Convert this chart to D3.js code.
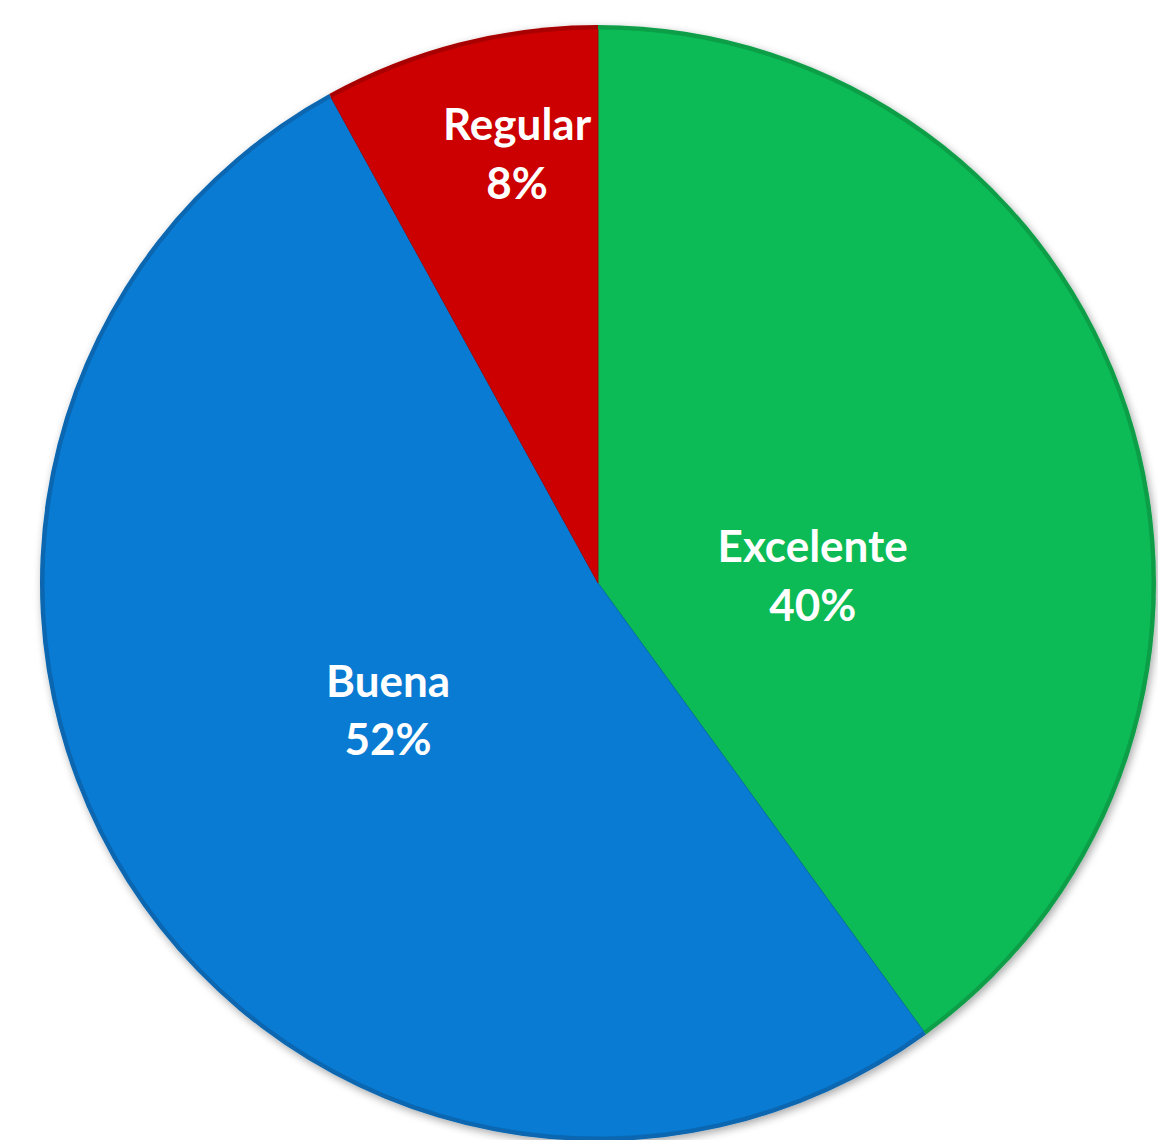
<!DOCTYPE html>
<html>
<head>
<meta charset="utf-8">
<script src="https://cdn.jsdelivr.net/npm/d3@7"></script>
<style>
  body { margin: 0; background: #ffffff; }
  #chart { width: 1158px; height: 1140px; }
</style>
</head>
<body>
<div id="chart"></div>
<script>
// Data
const categories = ["Excelente", "Buena", "Regular"];
const percents = [40, 52, 8];

// Styling kept apart from the data
const colors = { "Excelente": "#0cbb55", "Buena": "#0a7bd2", "Regular": "#cc0000" };
const edgeColors = { "Excelente": "#0a9e47", "Buena": "#0866b0", "Regular": "#a80000" };
// label placement: [angle offset in radians from slice middle, radius as fraction of pie radius]
const labelPlacement = { "Excelente": [0.28, 0.385], "Buena": [0.02, 0.44], "Regular": [0.065, 0.783] };

const width = 1158, height = 1140;
const cx = 598, cy = 583, radius = 558;

const svg = d3.select("#chart")
    .append("svg")
    .attr("width", width)
    .attr("height", height);

// soft shadow like the original office chart
const defs = svg.append("defs");
const shadow = defs.append("filter")
    .attr("id", "shadow")
    .attr("x", "-10%").attr("y", "-10%")
    .attr("width", "120%").attr("height", "120%");
shadow.append("feGaussianBlur").attr("in", "SourceAlpha").attr("stdDeviation", 4);
shadow.append("feOffset").attr("dx", 2).attr("dy", 3).attr("result", "blur");
shadow.append("feComponentTransfer").append("feFuncA").attr("type", "linear").attr("slope", 0.35);
const merge = shadow.append("feMerge");
merge.append("feMergeNode");
merge.append("feMergeNode").attr("in", "SourceGraphic");

const data = categories.map((c, i) => ({ label: c, value: percents[i] }));

const pie = d3.pie()
    .value(d => d.value)
    .sort(null);

const arc = d3.arc()
    .innerRadius(0)
    .outerRadius(radius);

const innerArc = d3.arc()
    .innerRadius(0)
    .outerRadius(radius - 4);

const g = svg.append("g")
    .attr("transform", `translate(${cx},${cy})`);

const arcs = pie(data);

g.append("g")
    .attr("filter", "url(#shadow)")
    .selectAll("path")
    .data(arcs)
    .enter()
    .append("path")
    .attr("d", arc)
    .attr("fill", d => edgeColors[d.data.label]);

// main faces, slightly inset to give the bevelled edge
g.selectAll(".slice")
    .data(arcs)
    .enter()
    .append("path")
    .attr("class", "slice")
    .attr("d", innerArc)
    .attr("fill", d => colors[d.data.label])
    .attr("stroke", d => edgeColors[d.data.label])
    .attr("stroke-width", 0.8);

// labels
const labels = g.selectAll(".label")
    .data(arcs)
    .enter()
    .append("text")
    .attr("class", "label")
    .attr("transform", d => {
        const p = labelPlacement[d.data.label];
        const a = (d.startAngle + d.endAngle) / 2 + p[0];
        const r = radius * p[1];
        return `translate(${r * Math.sin(a)},${-r * Math.cos(a)})`;
    })
    .attr("text-anchor", "middle")
    .style("font-family", "Lato, 'Open Sans', sans-serif")
    .style("font-weight", "bold")
    .style("font-size", "44px")
    .style("fill", "white");

labels.append("tspan")
    .attr("x", 0)
    .attr("dy", "-0.3em")
    .text(d => d.data.label);

labels.append("tspan")
    .attr("x", 0)
    .attr("dy", "1.32em")
    .text(d => d.data.value + "%");
</script>
</body>
</html>
